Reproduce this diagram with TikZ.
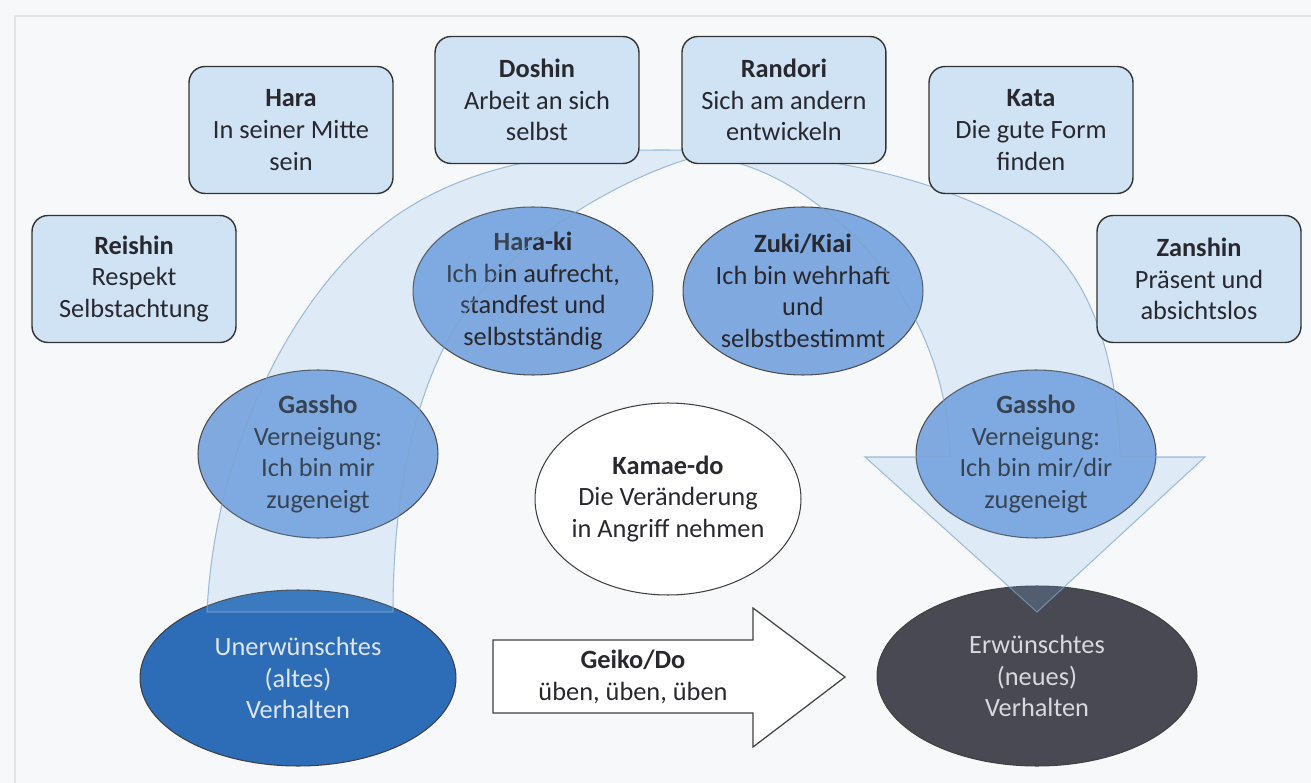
\documentclass[tikz,border=0pt]{standalone}
\usepackage{fontspec}
\setmainfont{Carlito}
\usepackage{tikz}
\usetikzlibrary{shapes, positioning}
\definecolor{paper}{RGB}{247,248,250}
\definecolor{ink}{RGB}{40,40,46}
\definecolor{boxblue}{RGB}{208,227,245}
\definecolor{ovalblue}{RGB}{128,169,224}
\definecolor{oldblue}{RGB}{45,108,182}
\definecolor{oldtext}{RGB}{222,230,240}
\definecolor{newgray}{RGB}{72,73,82}
\definecolor{newtext}{RGB}{216,217,222}
\definecolor{bandfill}{RGB}{122,178,230}
\definecolor{bandline}{RGB}{125,165,205}

\begin{document}
\begin{tikzpicture}[x=0.02cm, y=-0.02cm, node distance={4.94cm},
        every node/.style={font=\fontsize{15}{18}\selectfont, text=ink, align=center},
        box/.style = {draw=black!80, line width=0.8pt, rounded corners=0.32cm,
                        fill=boxblue, minimum width=4.08cm, minimum height=2.54cm, inner sep=0pt},
        oval/.style = {draw=black!70, line width=0.6pt, ellipse, fill=ovalblue,
                        minimum width=4.8cm, minimum height=3.36cm, inner sep=-4pt},
        goal/.style = {draw=black!75, line width=0.6pt, ellipse, inner sep=-4pt}]
        \fill[paper] (0,0) rectangle (1311,783);
        \useasboundingbox (0,0) rectangle (1311,783);
        \draw[black!10, line width=1pt] (15,783) -- (15,16) -- (1311,16);

        \node[oval] (haraki) at (533,291) {\textbf{Hara-ki}\\Ich bin aufrecht,\\standfest und\\selbstständig};
        \node[oval] (zuki) at (803,291) {\textbf{Zuki/Kiai}\\Ich bin wehrhaft\\und\\selbstbestimmt};
        \node[oval] (gasshol) at (318,454) {\textbf{Gassho}\\Verneigung:\\Ich bin mir\\zugeneigt};
        \node[oval] (gasshor) at (1036,454) {\textbf{Gassho}\\Verneigung:\\Ich bin mir/dir\\zugeneigt};
        \node[goal, fill=white, minimum width=5.32cm, minimum height=3.84cm] (kamae) at (668,499)
            {\textbf{Kamae-do}\\Die Veränderung\\in Angriff nehmen};
        \node[goal, fill=oldblue, text=oldtext, minimum width=6.32cm, minimum height=3.52cm] (altes) at (298,678)
            {Unerwünschtes\\(altes)\\Verhalten};
        \node[goal, fill=newgray, text=newtext, minimum width=6.4cm, minimum height=3.6cm] (neues) at (1037,676)
            {Erwünschtes\\(neues)\\Verhalten};

        % curved band
        \path[fill=bandfill, fill opacity=0.2, draw=bandline, draw opacity=0.7, line width=0.6pt]
            (207,612) .. controls (215,440) and (300,280) .. (400,213)
            .. controls (470,166) and (560,150) .. (660,150)
            .. controls (800,150) and (930,170) .. (1030,232)
            .. controls (1090,270) and (1118,360) .. (1120,457)
            -- (1205,457) -- (1037,612) -- (865,457) -- (950,457)
            .. controls (948,380) and (920,300) .. (850,232)
            .. controls (800,185) and (750,160) .. (700,156)
            .. controls (640,170) and (520,230) .. (460,320)
            .. controls (420,380) and (393,480) .. (393,612) -- cycle;

        \node[box] (reishin) at (134,279) {\textbf{Reishin}\\Respekt\\Selbstachtung};
        \node[box] (hara) at (291,130) {\textbf{Hara}\\In seiner Mitte\\sein};
        \node[box] (doshin) at (537,100) {\textbf{Doshin}\\Arbeit an sich\\selbst};
        \node[box] (randori) [right of=doshin] {\textbf{Randori}\\Sich am andern\\entwickeln};
        \node[box] (kata) at (1031,130) {\textbf{Kata}\\Die gute Form\\finden};
        \node[box] (zanshin) at (1199,279) {\textbf{Zanshin}\\Präsent und\\absichtslos};

        \draw[draw=black!75, fill=white, line width=0.7pt] (493,640) -- (753,640) -- (753,608)
            -- (845,677) -- (753,747) -- (753,713) -- (493,713) -- cycle;
        \node (geiko) at (633,677) {\textbf{Geiko/Do}\\üben, üben, üben};
    \end{tikzpicture}
\end{document}
